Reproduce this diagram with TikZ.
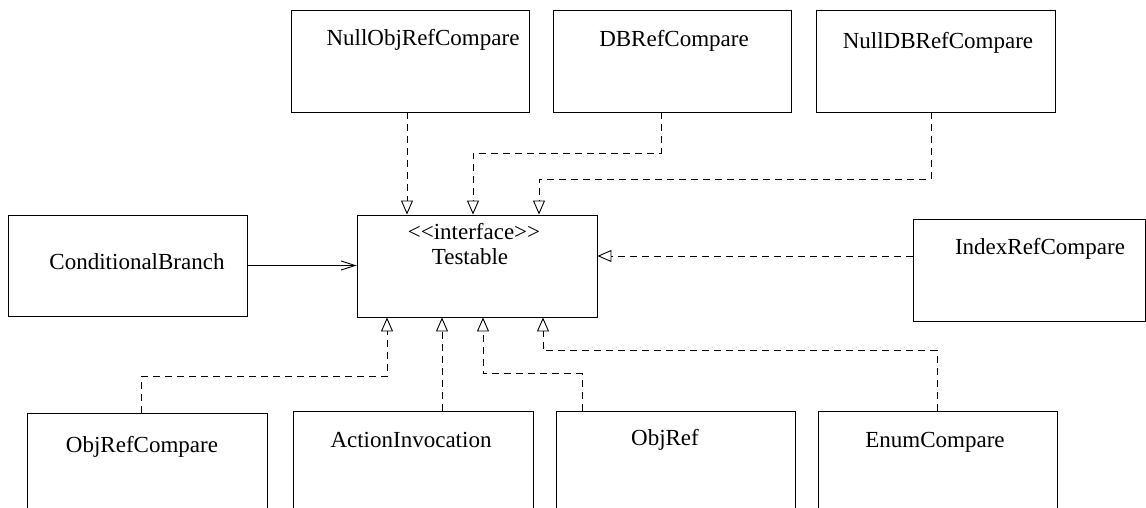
\documentclass[tikz,border=0pt]{standalone}
\usepackage{fontspec}
\setmainfont{Liberation Serif}
\usepackage{tikz}
\usetikzlibrary{arrows.meta,calc}
\tikzset{
  cls/.style={draw,line width=0.9pt,inner sep=0pt},
  realize/.style={line width=0.9pt,dash pattern=on 7pt off 5pt,-{Triangle[open,length=14pt,width=12pt]}},
  uses/.style={line width=0.9pt,-{Straight Barb[length=14pt,width=9pt]}}
}

\begin{document}
\begin{tikzpicture}[x=1pt,y=-1pt,font=\fontsize{23}{27}\selectfont]
\useasboundingbox (0,0) rectangle (1146,508);
\clip (0,0) rectangle (1146,508);
%\draw[help lines,step=50] (0,0) grid (1146,508);

% top row
\node[cls,minimum width=238pt,minimum height=102pt] (nullobj) at (410,61) {};
\node (nullobj-t) at (423,40) {NullObjRefCompare};
\node[cls,minimum width=238pt,minimum height=102pt] (dbref) at (672,61) {};
\node (dbref-t) at (674,41) {DBRefCompare};
\node[cls,minimum width=239pt,minimum height=102pt] (nulldb) at (935.5,61) {};
\node (nulldb-t) at (938,43) {NullDBRefCompare};

% middle row
\node[cls,minimum width=239pt,minimum height=101pt] (condbranch) at (127.5,265.5) {};
\node (condbranch-t) at (137,262) {ConditionalBranch};
\node[cls,minimum width=240pt,minimum height=102pt] (testable) at (477,266) {};
\node (testable-s) at (474,232) {<\kern0pt<interface>\kern0pt>};
\node (testable-t) at (470,257) {Testable};
\node[cls,minimum width=232pt,minimum height=102pt] (index) at (1029.5,270) {};
\node (index-t) at (1040,249) {IndexRefCompare};

% bottom row (cut off)
\node[cls,minimum width=240pt,minimum height=140pt] (objrefcmp) at (147,483) {};
\node (objrefcmp-t) at (142,447) {ObjRefCompare};
\node[cls,minimum width=240pt,minimum height=140pt] (actinv) at (413,481) {};
\node (actinv-t) at (411,440) {ActionInvocation};
\node[cls,minimum width=239pt,minimum height=140pt] (objref) at (675.5,481) {};
\node (objref-t) at (665,440) {ObjRef};
\node[cls,minimum width=239pt,minimum height=140pt] (enumcmp) at (937.5,481) {};
\node (enumcmp-t) at (935,442) {EnumCompare};

% realizations
\draw[realize] ($(nullobj.south)+(-3,0)$) -- ($(testable.north)+(-70,0)$);
\draw[realize] ($(dbref.south)+(-11,0)$) -- ++(0,41) -| ($(testable.north)+(-4,0)$);
\draw[realize] ($(nulldb.south)+(-4.5,0)$) -- ++(0,67) -| ($(testable.north)+(62,0)$);
\draw[realize] ($(index.west)+(0,-14)$) -- ($(testable.east)+(0,-10)$);
\draw[realize] ($(objrefcmp.north)+(-6,0)$) -- ++(0,-36) -| ($(testable.south)+(-90,0)$);
\draw[realize] ($(actinv.north)+(29,0)$) -- ($(testable.south)+(-35,0)$);
\draw[realize] ($(objref.north)+(-93.5,0)$) -- ++(0,-37) -| ($(testable.south)+(6,0)$);
\draw[realize] ($(enumcmp.north)+(-0.5,0)$) -- ++(0,-60) -| ($(testable.south)+(66,0)$);

% association
\draw[uses] (condbranch.east) -- (condbranch.east -| testable.west);
\end{tikzpicture}
\end{document}
